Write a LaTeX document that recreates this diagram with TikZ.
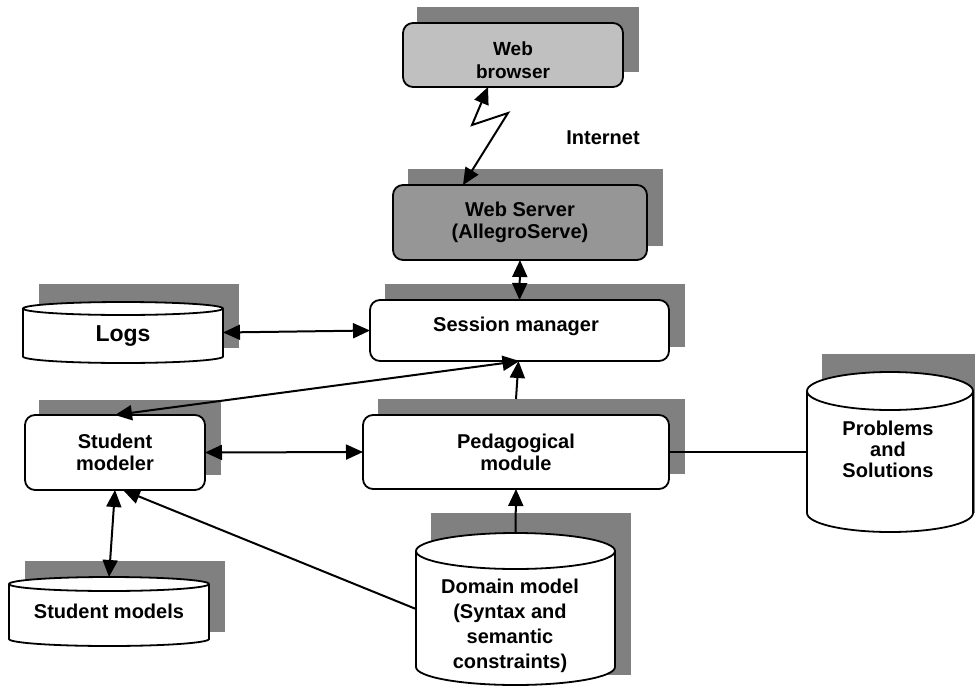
\documentclass[tikz,border=0pt]{standalone}
\usepackage{fontspec}
\setmainfont{Liberation Sans}
\usetikzlibrary{arrows.meta,calc,backgrounds}

\definecolor{dropgray}{HTML}{808080}
\definecolor{lightbox}{HTML}{C0C0C0}
\definecolor{midbox}{HTML}{969696}

\tikzset{
  box/.style={draw, line width=1.8pt, rounded corners=10pt, fill=white,
    inner sep=0pt, outer sep=0pt, align=center,
    font=\bfseries\fontsize{20}{22}\selectfont},
  store/.style={inner sep=0pt, outer sep=0pt},
  rim/.style={draw, line width=1.8pt, fill=white},
  txt/.style={align=center, inner sep=0pt, font=\bfseries\fontsize{20}{22}\selectfont},
  link/.style={line width=2pt},
  dropshadow/.style={fill=dropgray},
}

% vertical drum drawn inside the bounding box of a named node; #2 = half height of the lid
\newcommand\drum[2]{%
  \path[rim] let \p1=(#1.north west), \p2=(#1.south east), \n1={(\x2-\x1)/2} in
    (\x1,\y1-#2pt) -- (\x1,\y2+#2pt)
      arc[start angle=180, end angle=360, x radius=\n1, y radius=#2pt]
    -- (\x2,\y1-#2pt)
      arc[start angle=0, end angle=180, x radius=\n1, y radius=#2pt] -- cycle
    (\x1,\y1-#2pt)
      arc[start angle=180, end angle=360, x radius=\n1, y radius=#2pt];
}

\begin{document}
\begin{tikzpicture}[x=1pt, y=-1pt, >={Triangle[length=17pt,width=15pt]}]
\useasboundingbox (0,0) rectangle (975,686);
\clip (0,0) rectangle (975,686);

% boxes
\node[box, fill=lightbox, minimum width=220pt, minimum height=64pt] (browser) at (513,55) {};
\node[txt, font=\bfseries\fontsize{19}{23}\selectfont] (browsertext) at (513,60) {Web\\browser};
\node[box, fill=midbox, minimum width=254pt, minimum height=75pt] (server) at (520,222.5) {Web Server\\(AllegroServe)};
\node[box, minimum width=299pt, minimum height=61pt] (session) at (519.5,330.5) {};
\node[txt] (sessiontext) at (516,326) {Session manager};
\node[box, minimum width=180pt, minimum height=75pt] (modeler) at (115,452.5) {Student\\modeler};
\node[box, minimum width=306pt, minimum height=74pt] (pedag) at (516,452) {Pedagogical\\module};

% data stores
\node[store, minimum width=200pt, minimum height=61pt] (logs) at (123,332.5) {};
\node[store, minimum width=200pt, minimum height=69pt] (models) at (109,611.5) {};
\node[store, minimum width=199pt, minimum height=152pt] (domain) at (515.5,609) {};
\node[store, minimum width=166pt, minimum height=160pt] (problems) at (890,452) {};
\drum{logs}{6.5}
\drum{models}{7}
\drum{domain}{18}
\drum{problems}{19}

\node[txt, font=\bfseries\fontsize{23}{26}\selectfont] (logstext) at (123,336) {Logs};
\node[txt] (modelstext) at (109,611) {Student models};
\node[txt, font=\bfseries\fontsize{20}{25}\selectfont] (domaintext) at (510,625.5)
  {Domain model\\(Syntax and\\semantic\\constraints)};
\node[txt, font=\bfseries\fontsize{20}{21}\selectfont] (problemstext) at (888,449)
  {Problems\\and\\Solutions};
\node[txt] (internet) at (603,138) {Internet};

% drop shadows
\begin{scope}[on background layer]
  \path[dropshadow] ($(browser.north west)+(14,-16)$) rectangle ($(browser.south east)+(16,-15)$);
  \path[dropshadow] ($(server.north west)+(15,-16)$) rectangle ($(server.south east)+(16,-14)$);
  \path[dropshadow] ($(session.north west)+(15,-16)$) rectangle ($(session.south east)+(16,-14)$);
  \path[dropshadow] ($(modeler.north west)+(14,-15)$) rectangle ($(modeler.south east)+(16,-15)$);
  \path[dropshadow] ($(pedag.north west)+(15,-16)$) rectangle ($(pedag.south east)+(16,-15)$);
  \path[dropshadow] ($(logs.north west)+(16,-18)$) rectangle ($(logs.south east)+(16,-15)$);
  \path[dropshadow] ($(models.north west)+(16,-16)$) rectangle ($(models.south east)+(16,-14)$);
  \path[dropshadow] ($(domain.north west)+(15,-20)$) rectangle ($(domain.south east)+(16,-10)$);
  \path[dropshadow] ($(problems.north west)+(15,-18)$) rectangle ($(problems.south east)+(20,-19)$);
\end{scope}

% connectors
\coordinate (kinkA) at (472,125);
\coordinate (kinkB) at (508,113);
\draw[link, <->] ($(browser.south)+(-25,0)$) -- (kinkA) -- (kinkB) -- ($(server.north)+(-57,0)$);
\draw[link, <->] (server.south) -- (session.north);
\draw[link, <->] (logs.east) -- (session.west);
\draw[link, <->] (modeler.north) -- (session.south);
\draw[link, ->] ($(pedag.north)+(0,-16)$) -- ($(session.south)+(-1,0)$);
\draw[link, <->] (modeler.east) -- (pedag.west);
\draw[link] (pedag.east) -- (problems.west);
\draw[link, ->] (domain.north) -- (pedag.south);
\draw[link, ->] (domain.west) -- ($(modeler.south)+(8,0)$);
\draw[link, <->] (modeler.south) -- (models.north);
\end{tikzpicture}
\end{document}
